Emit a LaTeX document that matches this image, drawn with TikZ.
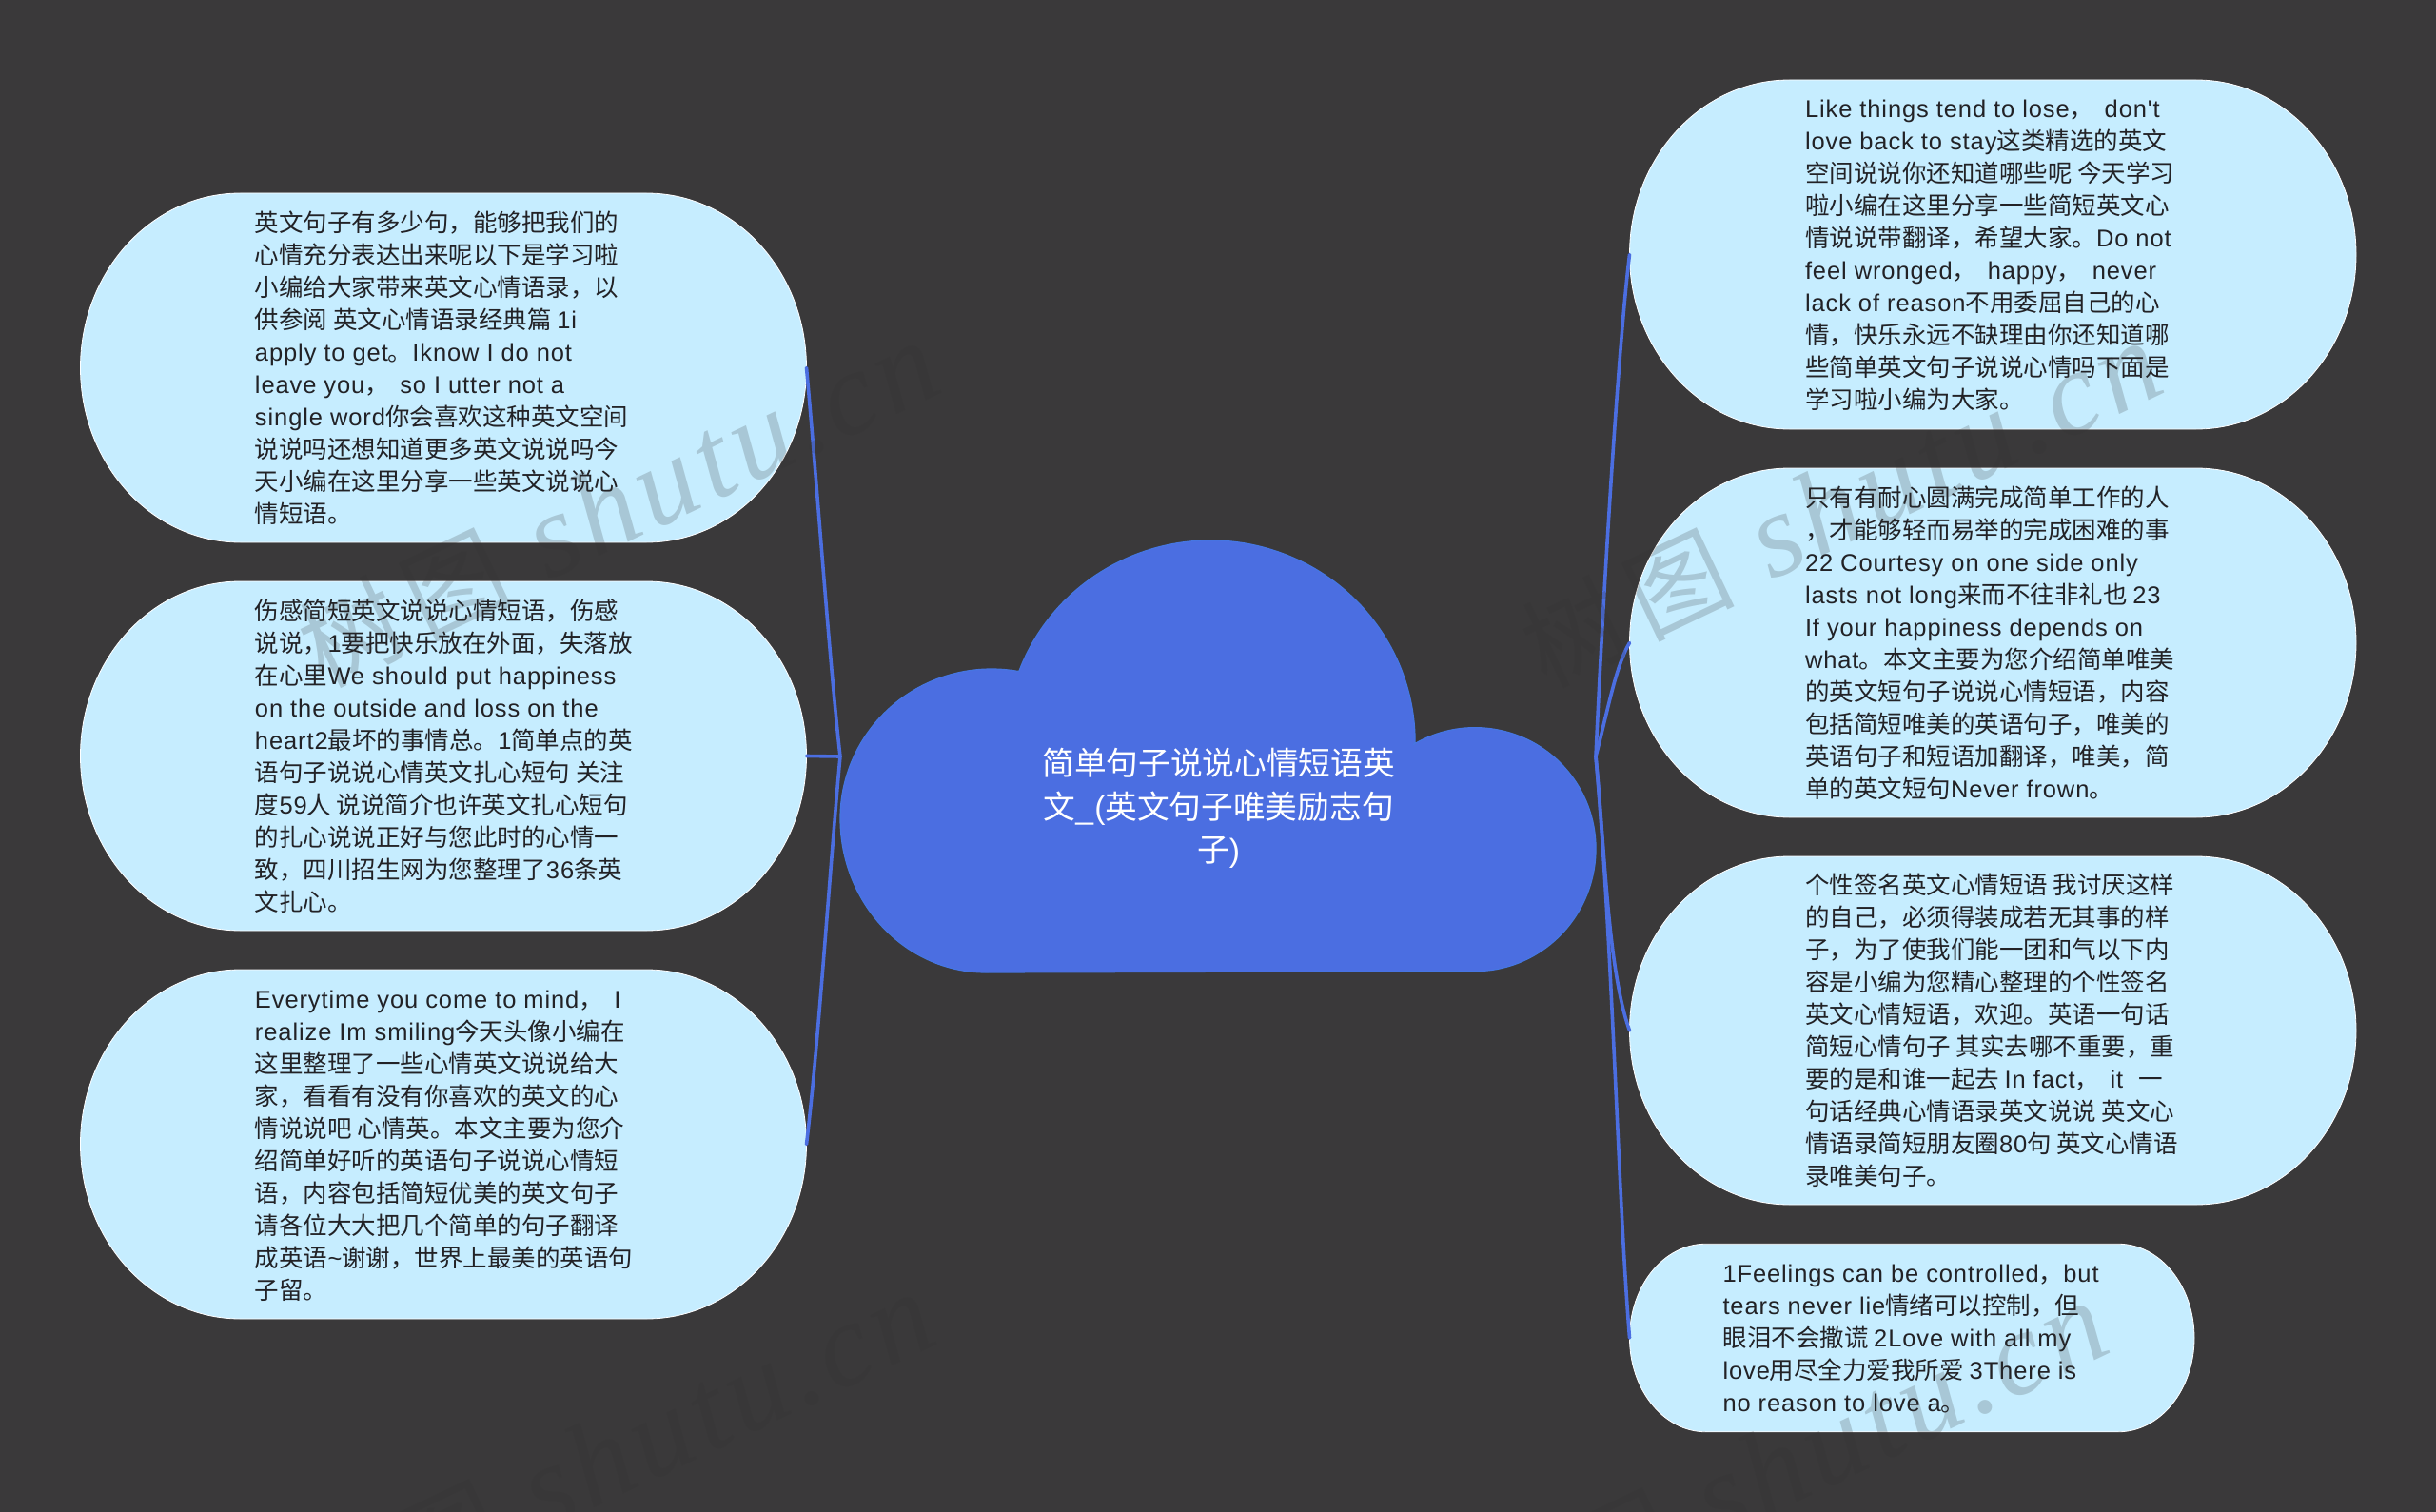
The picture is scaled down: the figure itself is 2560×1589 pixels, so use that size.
\documentclass[tikz,border=0pt]{standalone}
\usepackage{fontspec}
\usetikzlibrary{backgrounds,calc}
\setmainfont{Liberation Sans}
\newfontfamily\latf{Liberation Sans}[LetterSpace=3.5]
\newfontfamily\cjkf{Noto Sans CJK SC}
\newfontfamily\wmcjk{Noto Sans CJK SC}[LetterSpace=14]
\newfontfamily\wmlat{Liberation Serif}[ItalicFont=* Italic,LetterSpace=5]
\definecolor{pagebg}{RGB}{58,57,58}
\definecolor{cloudblue}{RGB}{75,110,225}
\definecolor{cloudedge}{RGB}{70,118,226}
\definecolor{pillblue}{RGB}{198,237,255}
\definecolor{inkdark}{RGB}{34,34,38}
\definecolor{wmgray}{RGB}{50,50,50}
\XeTeXinterchartokenstate=1
\chardef\cjkcls=77
\newcount\cjkcnt
\newcommand\markcjk[2]{\cjkcnt=#1\relax\loop\XeTeXcharclass\cjkcnt=\cjkcls\ifnum\cjkcnt<#2\advance\cjkcnt by 1\repeat}
\markcjk{"3000}{"303F}
\markcjk{"4E00}{"9FFF}
\markcjk{"FF00}{"FFEF}
\XeTeXinterchartoks 0 \cjkcls = {\cjkf}
\XeTeXinterchartoks \cjkcls 0 = {\latf}
\XeTeXinterchartoks 4095 \cjkcls = {\cjkf}
\XeTeXinterchartoks 4095 0 = {\latf}
% #1 left padding, #2 node width, #3 lines
\newcommand\pilltext[3]{\makebox[#2pt][l]{\hspace*{#1pt}\parbox[c]{\dimexpr#2pt-#1pt\relax}{\raggedright\fontsize{25.5}{34}\selectfont\color{inkdark}\rule{0pt}{26.5pt}#3\rule[-7.5pt]{0pt}{7.5pt}}}}
\newcommand\pillshape[2]{% #1 name, #2 x radius
  \path[pillstyle] let \p1=(#1.north), \p2=(#1.south), \n1={abs(\y1-\y2)/2} in
    ([xshift=#2pt]#1.north west) -- ([xshift=-#2pt]#1.north east)
    arc[start angle=270,end angle=450,x radius=#2pt,y radius=\n1]
    -- ([xshift=#2pt]#1.south west)
    arc[start angle=90,end angle=270,x radius=#2pt,y radius=\n1] -- cycle;}
\newcommand\wmtext{\XeTeXinterchartokenstate=0 \wmcjk 树图 \fontsize{125}{125}\wmlat\itshape shutu.cn}
\tikzset{
  pillstyle/.style={fill=pillblue,draw=white,line width=0.8pt},
  pillnode/.style={inner sep=0pt,outer sep=0pt},
  rootnode/.style={inner sep=0pt,outer sep=0pt,minimum width=794pt,minimum height=454pt},
  titletext/.style={text=white,align=center,font=\fontsize{33.7}{45.5}\selectfont},
  linkline/.style={draw=cloudblue,line width=3.6pt,line cap=round},
  watermark/.style={text=wmgray,text opacity=0.2,rotate=25.5,font=\fontsize{105}{105}\selectfont,inner sep=0pt}
}
\begin{document}
\begin{tikzpicture}[x=1pt,y=1pt,yscale=-1]
\useasboundingbox (0,0) rectangle (2560,1589);
\node[rootnode] (root) at (1280,795) {};
\node[titletext] (title) at (1280.7,849.5) {简单句子说说心情短语英\\文\char95(英文句子唯美励志句\\子)};
\node[pillnode,minimum height=367pt] (l1) at (466,386.5) {\pilltext{183.5}{763}{英文句子有多少句，能够把我们的\\
心情充分表达出来呢以下是学习啦\\
小编给大家带来英文心情语录，以\\
供参阅 英文心情语录经典篇 1i\\
apply to get。Iknow I do not\\
leave you，\ \ so I utter not a\\
single word你会喜欢这种英文空间\\
说说吗还想知道更多英文说说吗今\\
天小编在这里分享一些英文说说心\\
情短语。}};
\node[pillnode,minimum height=367pt] (l2) at (466,794.5) {\pilltext{183.5}{763}{伤感简短英文说说心情短语，伤感\\
说说，1要把快乐放在外面，失落放\\
在心里We should put happiness\\
on the outside and loss on the\\
heart2最坏的事情总。1简单点的英\\
语句子说说心情英文扎心短句 关注\\
度59人 说说简介也许英文扎心短句\\
的扎心说说正好与您此时的心情一\\
致，四川招生网为您整理了36条英\\
文扎心。}};
\node[pillnode,minimum height=367pt] (l3) at (466,1202.5) {\pilltext{183.5}{763}{Everytime you come to mind，\ \ I\\
realize Im smiling今天头像小编在\\
这里整理了一些心情英文说说给大\\
家，看看有没有你喜欢的英文的心\\
情说说吧 心情英。本文主要为您介\\
绍简单好听的英语句子说说心情短\\
语，内容包括简短优美的英文句子\\
请各位大大把几个简单的句子翻译\\
成英语\char126谢谢，世界上最美的英语句\\
子留。}};
\node[pillnode,minimum height=367pt] (r1) at (2094.25,267.5) {\pilltext{184.5}{763.5}{Like things tend to lose，\ \ don't\\
love back to stay这类精选的英文\\
空间说说你还知道哪些呢 今天学习\\
啦小编在这里分享一些简短英文心\\
情说说带翻译，希望大家。Do not\\
feel wronged，\ \ happy，\ \ never\\
lack of reason不用委屈自己的心\\
情，快乐永远不缺理由你还知道哪\\
些简单英文句子说说心情吗下面是\\
学习啦小编为大家。}};
\node[pillnode,minimum height=367pt] (r2) at (2094.25,675.5) {\pilltext{184.5}{763.5}{只有有耐心圆满完成简单工作的人\\
，才能够轻而易举的完成困难的事\\
22 Courtesy on one side only\\
lasts not long来而不往非礼也 23\\
If your happiness depends on\\
what。本文主要为您介绍简单唯美\\
的英文短句子说说心情短语，内容\\
包括简短唯美的英语句子，唯美的\\
英语句子和短语加翻译，唯美，简\\
单的英文短句Never frown。}};
\node[pillnode,minimum height=366pt] (r3) at (2094.25,1083) {\pilltext{184.5}{763.5}{个性签名英文心情短语 我讨厌这样\\
的自己，必须得装成若无其事的样\\
子，为了使我们能一团和气以下内\\
容是小编为您精心整理的个性签名\\
英文心情短语，欢迎。英语一句话\\
简短心情句子 其实去哪不重要，重\\
要的是和谁一起去 In fact，\ \ it\ \ 一\\
句话经典心情语录英文说说 英文心\\
情语录简短朋友圈80句 英文心情语\\
录唯美句子。}};
\node[pillnode,minimum height=197.5pt] (r4) at (2009.25,1406) {\pilltext{98}{593.5}{1Feelings can be controlled，but\\
tears never lie情绪可以控制，但\\
眼泪不会撒谎 2Love with all my\\
love用尽全力爱我所爱 3There is\\
no reason to love a。}};
\begin{scope}[on background layer]
  \fill[pagebg] (0,0) rectangle (2560,1589);
  \path[fill=cloudblue,draw=cloudedge,line width=1.2pt] (1071,705)
    arc[start angle=200.7,end angle=360,x radius=215pt,y radius=212pt]
    -- (1486,782)
    arc[start angle=239.7,end angle=360,x radius=127pt,y radius=127pt]
    arc[start angle=0,end angle=90,x radius=127pt,y radius=129pt]
    -- (1036,1022)
    arc[start angle=90,end angle=180,x radius=153pt,y radius=162pt]
    arc[start angle=180,end angle=280,x radius=159pt,y radius=157pt] -- cycle;
  \pillshape{l1}{168}
  \pillshape{l2}{168}
  \pillshape{l3}{168}
  \pillshape{r1}{168}
  \pillshape{r2}{168}
  \pillshape{r3}{168}
  \pillshape{r4}{80}
\end{scope}
\draw[linkline] (l1.east) .. controls (858,500) and (872,700) .. (root.west);
\draw[linkline] (l2.east) -- (root.west);
\draw[linkline] (l3.east) .. controls (860,1100) and (873,900) .. (root.west);
\draw[linkline] (r1.west) .. controls (1700,370) and (1684,640) .. (root.east);
\draw[linkline] (r2.west) .. controls (1698,700) and (1690,745) .. (root.east);
\draw[linkline] (r3.west) .. controls (1690,1020) and (1687,900) .. (root.east);
\draw[linkline] (r4.west) .. controls (1700,1250) and (1695,1000) .. (root.east);
\node[watermark] (wm1) at (650,531) {\wmtext};
\node[watermark] (wm2) at (1935,531) {\wmtext};
\node[watermark] (wm3) at (645,1531) {\wmtext};
\node[watermark] (wm4) at (1878,1540) {\wmtext};
\end{tikzpicture}
\end{document}
